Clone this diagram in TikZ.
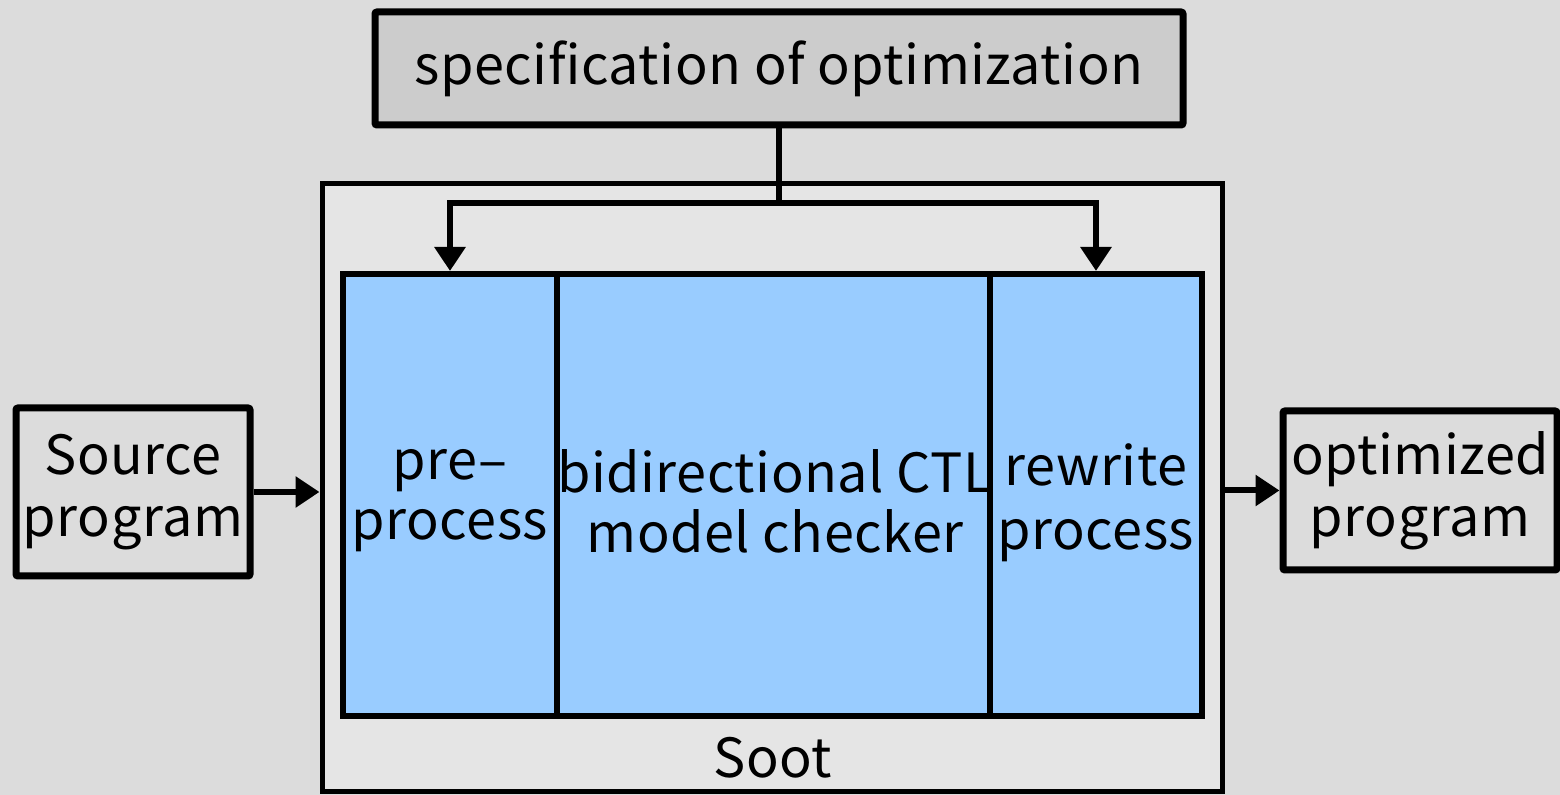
\documentclass[tikz,border=0pt]{standalone}
\usepackage{fontspec}
\setmainfont{Noto Sans CJK JP}[LetterSpace=1]
\usetikzlibrary{arrows.meta}
\definecolor{bg}{HTML}{DCDCDC}
\definecolor{specfill}{HTML}{CCCCCC}
\definecolor{sootfill}{HTML}{E5E5E5}
\definecolor{stagefill}{HTML}{99CCFF}
\tikzset{
  box/.style={draw=black, line width=3.5pt, rounded corners=1pt, inner sep=0pt, align=center,
              font=\fontsize{27}{31}\selectfont},
  stage/.style={draw=black, line width=3pt, fill=stagefill, inner sep=0pt, minimum height=221pt},
  arr/.style={line width=3pt, -{Triangle[length=12pt,width=15pt]}},
  link/.style={line width=3pt},
  lbl/.style={font=\fontsize{27}{30}\selectfont, align=center, inner sep=0pt}
}
\begin{document}
\begin{tikzpicture}[x=0.5pt,y=-0.5pt]
  \fill[bg] (0,0) rectangle (1560,795);
  \useasboundingbox (0,0) rectangle (1560,795);

  % Soot frame
  \node[box, line width=2.5pt, fill=sootfill, rounded corners=0pt, minimum width=450pt, minimum height=304pt] (soot) at (772,488) {};
  \node[lbl] (sootlbl) at (773,758) {Soot};

  % specification box
  \node[box, fill=specfill, minimum width=404pt, minimum height=56.5pt] (spec) at (779,68.5) {specification of optimization};

  % the three stages inside Soot
  \node[stage, minimum width=107pt] (pre) at (450,495) {};
  \node[stage, minimum width=216.5pt] (mc) at (773.5,495) {};
  \node[stage, minimum width=106pt] (rw) at (1096,495) {};
  \node[lbl] (prelbl) at (450,501) {pre–\\process};
  \node[lbl] (mclbl) at (775,501) {bidirectional CTL\\model checker};
  \node[lbl, font=\fontsize{27}{32}\selectfont] (rwlbl) at (1096,503) {rewrite\\process};

  % input and output
  \node[box, minimum width=117pt, minimum height=84pt] (src) at (133,492) {Source\\program};
  \node[box, minimum width=137pt, minimum height=79.5pt] (out) at (1420,490.5) {optimized\\program};

  % connectors
  \draw[arr] (src.east) -- (src.east -| soot.west);
  \draw[arr] (out.west -| soot.east) -- (out.west);
  \draw[link] (spec.south) -- ++(0,75) coordinate (fork);
  \draw[arr] (fork) -| (pre.north);
  \draw[arr] (fork) -| (rw.north);
\end{tikzpicture}
\end{document}
